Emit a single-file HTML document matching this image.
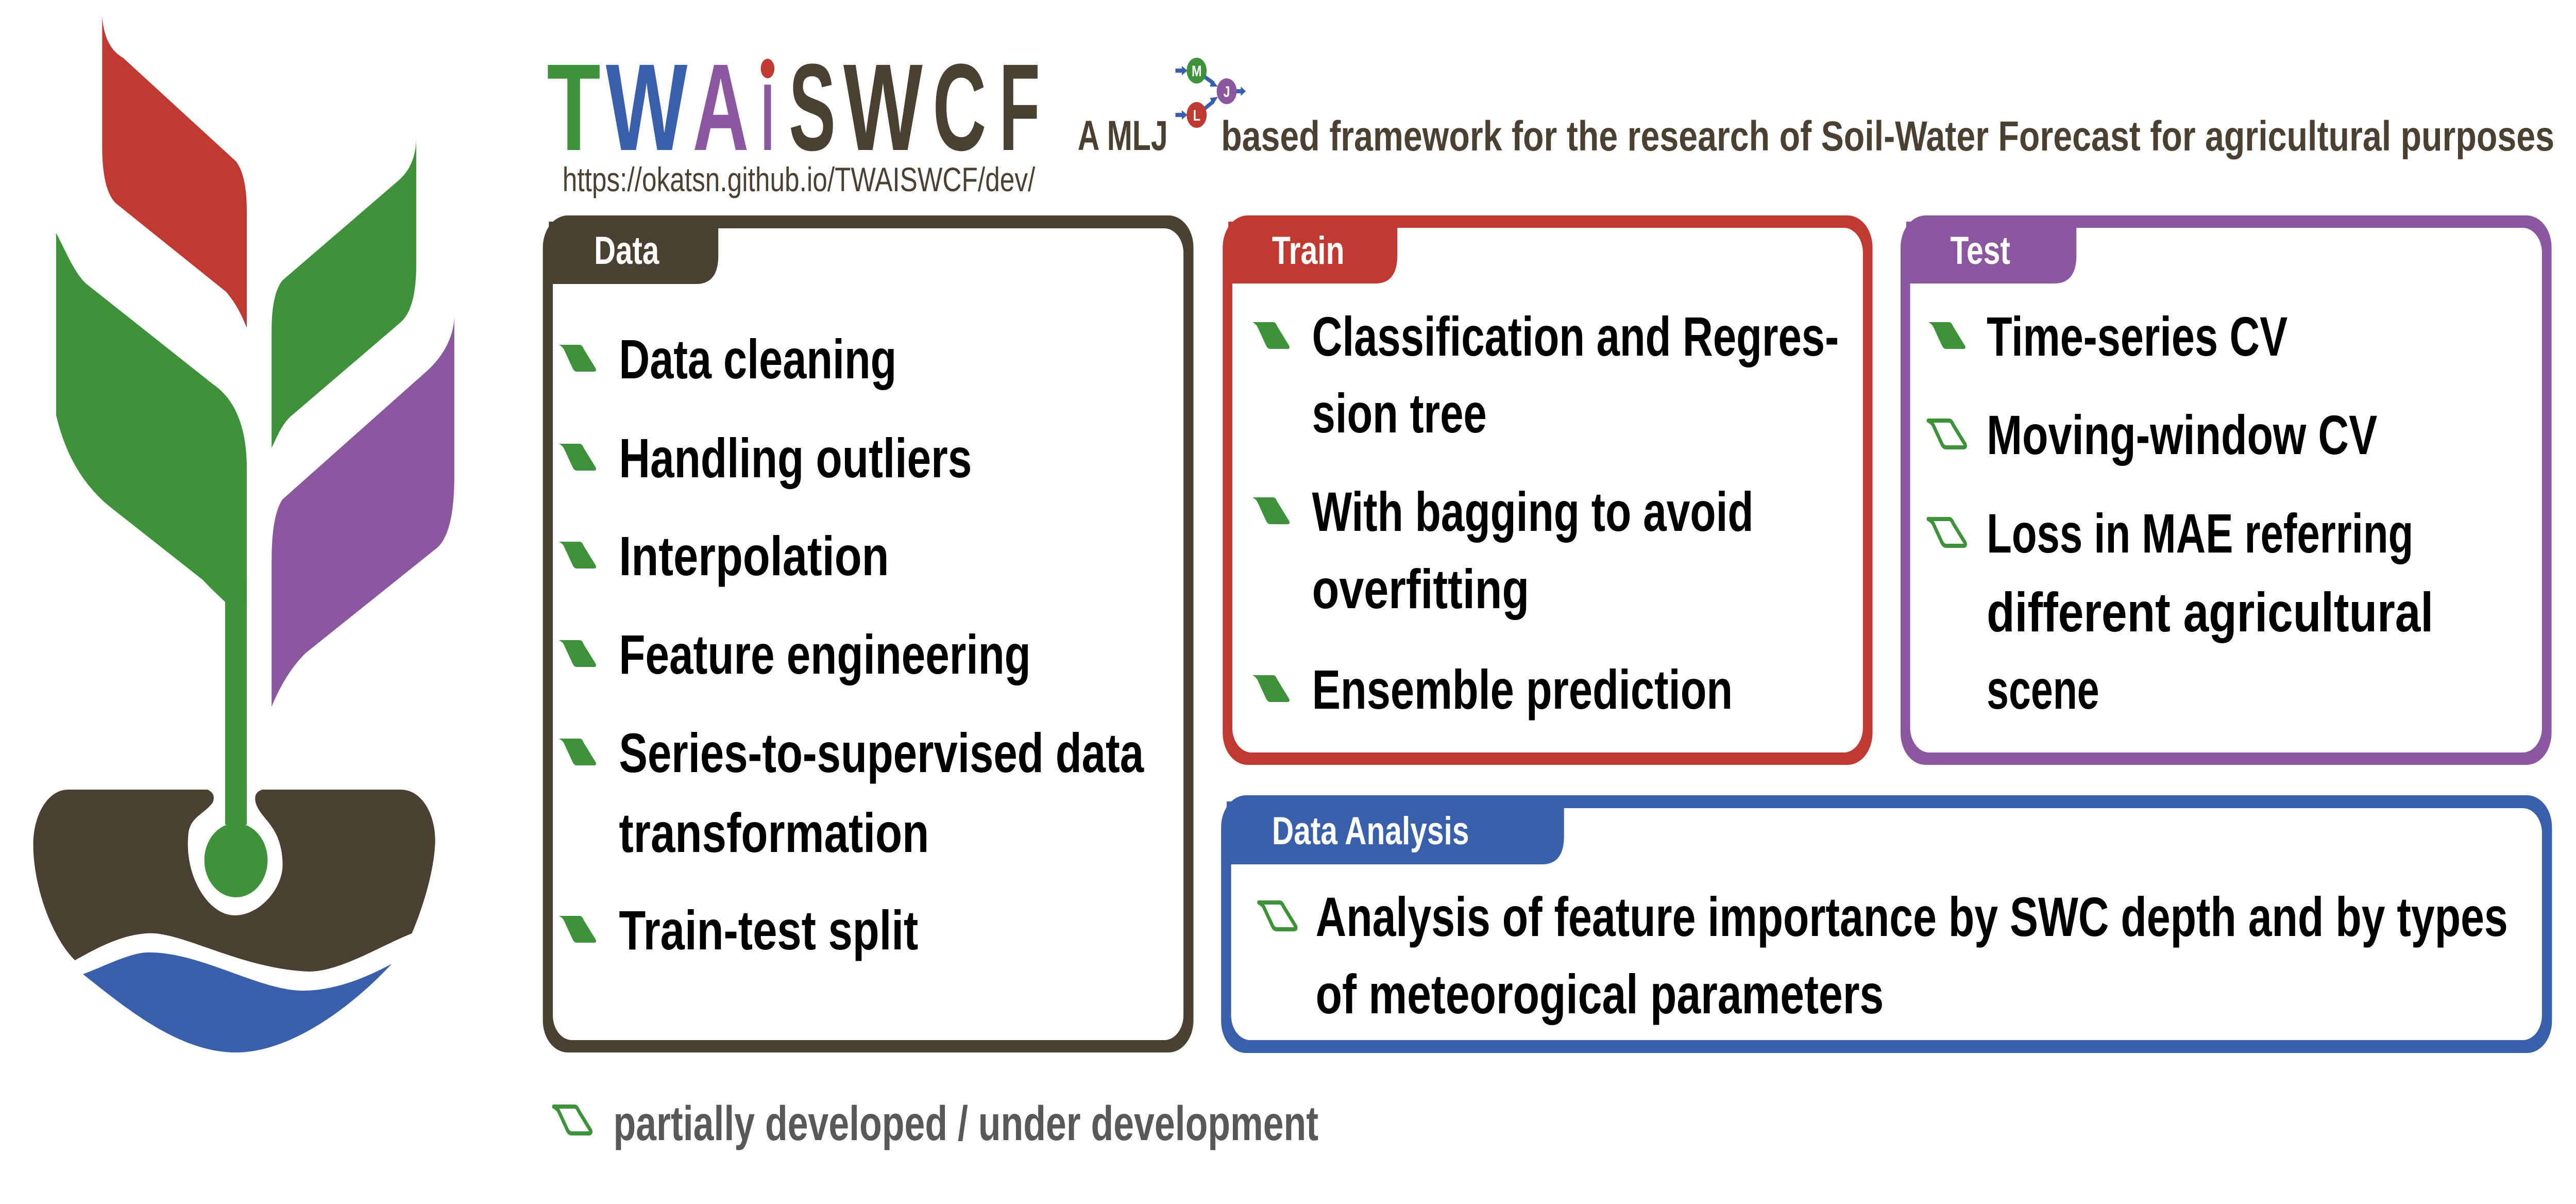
<!DOCTYPE html>
<html><head><meta charset="utf-8"><style>html,body{margin:0;padding:0;background:#fff;overflow:hidden;width:100vw;height:100vh}svg{display:block;width:100vw;height:100vh}</style></head><body>
<svg xmlns="http://www.w3.org/2000/svg" viewBox="0 0 6430 2336" preserveAspectRatio="none">
<defs>
<path id="leaf" d="M0,0 L52,0 Q58,0 62,8 L92,46 Q95,52 88,52 L45,52 Q38,52 34,45 L12,8 Q8,3 0,0 Z"/>
</defs>
<rect width="6430" height="2336" fill="#fff"/>
<!-- Logo -->
<path fill="#C13A32" d="M255,30 C258,70 275,98 307,112 L589,313 Q616,340 616,410 L616,636 C600,605 585,585 564,566 L290,395 Q255,370 255,283 Z"/>
<path fill="#3D923A" d="M140,452 C160,480 185,530 216,551 L531,745 Q616,790 616,909 L616,1600 L562,1600 L562,1168 C545,1155 530,1145 506,1125 L274,983 Q174,920 140,805 Z"/>
<path fill="#3D923A" d="M1039,268 L1039,514 Q1039,600 999,626 L730,805 C705,820 690,850 678,869 L678,641 Q678,570 705,544 L995,350 C1025,330 1039,300 1039,268 Z"/>
<path fill="#8B579F" d="M1134,611 L1134,924 Q1134,1040 1086,1066 L763,1267 C720,1300 695,1340 678,1371 L678,1088 Q678,1000 705,969 L1061,723 C1110,690 1134,650 1134,611 Z"/>
<path fill="#4A4133" d="M170,1532 L518,1532 Q540,1540 531,1557 C510,1580 473,1585 470,1620 C460,1700 520,1776 586,1776 C650,1776 712,1720 705,1669 C700,1600 650,1590 638,1557 Q632,1537 655,1532 L999,1532 C1060,1532 1090,1590 1086,1639 C1080,1720 1028,1811 1028,1811 C950,1835 850,1885 771,1885 C600,1880 450,1805 365,1811 C290,1815 220,1850 187,1863 C130,1820 83,1720 83,1639 C83,1580 120,1532 170,1532 Z"/>
<ellipse cx="589" cy="1669" rx="79" ry="72" fill="#3D923A"/>
<path fill="#3A60AB" d="M207,1890 C260,1875 320,1850 365,1848 C500,1845 650,1925 763,1922 C850,1920 930,1890 978,1870 C870,1960 720,2042 589,2042 C450,2042 320,1960 207,1890 Z"/>

<!-- Title -->
<g font-family="Liberation Sans, sans-serif" font-weight="bold" font-size="240">
<text x="1365" y="291" fill="#3D923A" textLength="134" lengthAdjust="spacingAndGlyphs">T</text>
<text x="1512" y="291" fill="#3A60AB" textLength="204" lengthAdjust="spacingAndGlyphs">W</text>
<text x="1729" y="291" fill="#8B579F" textLength="140" lengthAdjust="spacingAndGlyphs">A</text>
<text x="1899" y="291" fill="#8B579F" textLength="34" lengthAdjust="spacingAndGlyphs">ı</text>
<text x="1969" y="291" fill="#4A4133" textLength="117" lengthAdjust="spacingAndGlyphs">S</text>
<text x="2105" y="291" fill="#4A4133" textLength="198" lengthAdjust="spacingAndGlyphs">W</text>
<text x="2328" y="291" fill="#4A4133" textLength="134" lengthAdjust="spacingAndGlyphs">C</text>
<text x="2494" y="291" fill="#4A4133" textLength="102" lengthAdjust="spacingAndGlyphs">F</text>
</g>
<ellipse cx="1916" cy="133" rx="17" ry="19" fill="#C13A32"/>
<text x="1404" y="371" font-family="Liberation Sans, sans-serif" font-size="66" fill="#4A4133" textLength="1180" lengthAdjust="spacingAndGlyphs">https://okatsn.github.io/TWAISWCF/dev/</text>
<g font-family="Liberation Sans, sans-serif" font-weight="bold" font-size="82" fill="#4A4133">
<text x="2690" y="291" textLength="225" lengthAdjust="spacingAndGlyphs">A MLJ</text>
<text x="3048" y="292" textLength="3328" lengthAdjust="spacingAndGlyphs">based framework for the research of Soil-Water Forecast for agricultural purposes</text>
</g>
<!-- MLJ mini logo -->
<g stroke="#3A60AB" stroke-width="8" fill="#3A60AB">
<line x1="2934" y1="137" x2="2952" y2="137"/>
<polygon stroke="none" points="2950,128 2964,137 2950,146"/>
<line x1="2934" y1="223" x2="2952" y2="223"/>
<polygon stroke="none" points="2950,214 2964,223 2950,232"/>
<line x1="3005" y1="148" x2="3030" y2="162"/>
<polygon stroke="none" points="3025,154 3040,168 3020,168"/>
<line x1="3005" y1="212" x2="3030" y2="196"/>
<polygon stroke="none" points="3020,190 3040,188 3028,203"/>
<line x1="3086" y1="177" x2="3098" y2="177"/>
<polygon stroke="none" points="3097,168 3110,177 3097,186"/>
</g>
<circle cx="2987" cy="137" r="25" fill="#3D923A"/>
<circle cx="3062" cy="177" r="25" fill="#8B579F"/>
<circle cx="2987" cy="223" r="25" fill="#C13A32"/>
<g font-family="Liberation Sans, sans-serif" font-weight="bold" font-size="30" fill="#fff" text-anchor="middle">
<text x="2987" y="148">M</text><text x="3062" y="188">J</text><text x="2987" y="234">L</text>
</g>

<!-- Data -->
<rect x="1355" y="418" width="1624" height="1624" rx="62" fill="#4A4133"/>
<rect x="1380" y="443" width="1574" height="1575" rx="48" fill="#fff"/>
<path d="M1370,430 L1793,430 L1793,496 Q1793,551 1738,551 L1370,551 Z" fill="#4A4133"/>
<!-- Train -->
<rect x="3052" y="418" width="1622" height="1066" rx="62" fill="#C13A32"/>
<rect x="3076" y="442" width="1574" height="1018" rx="48" fill="#fff"/>
<path d="M3066,430 L3488,430 L3488,495 Q3488,550 3433,550 L3066,550 Z" fill="#C13A32"/>
<!-- Test -->
<rect x="4744" y="418" width="1625" height="1066" rx="62" fill="#8B579F"/>
<rect x="4768" y="442" width="1577" height="1018" rx="48" fill="#fff"/>
<path d="M4758,430 L5183,430 L5183,495 Q5183,550 5128,550 L4758,550 Z" fill="#8B579F"/>
<!-- Data Analysis -->
<rect x="3048" y="1543" width="3322" height="500" rx="62" fill="#3A60AB"/>
<rect x="3073" y="1568" width="3272" height="450" rx="48" fill="#fff"/>
<path d="M3062,1555 L3904,1555 L3904,1622 Q3904,1677 3849,1677 L3062,1677 Z" fill="#3A60AB"/>

<g font-family="Liberation Sans, sans-serif" font-weight="bold" font-size="76" fill="#fff">
<text x="1483" y="512" textLength="162" lengthAdjust="spacingAndGlyphs">Data</text>
<text x="3175" y="512" textLength="181" lengthAdjust="spacingAndGlyphs">Train</text>
<text x="4868" y="512" textLength="150" lengthAdjust="spacingAndGlyphs">Test</text>
<text x="3175" y="1638" textLength="492" lengthAdjust="spacingAndGlyphs">Data Analysis</text>
</g>

<g fill="#3D923A">
<use href="#leaf" x="1395" y="669"/>
<use href="#leaf" x="1395" y="861"/>
<use href="#leaf" x="1395" y="1051"/>
<use href="#leaf" x="1395" y="1242"/>
<use href="#leaf" x="1395" y="1433"/>
<use href="#leaf" x="1395" y="1777"/>
<use href="#leaf" x="3126" y="625"/>
<use href="#leaf" x="3126" y="965"/>
<use href="#leaf" x="3126" y="1310"/>
<use href="#leaf" x="4813" y="625"/>
</g>
<g fill="#fff" stroke="#3D923A" stroke-width="8" stroke-linejoin="round">
<use href="#leaf" x="4813" y="816"/>
<use href="#leaf" x="4813" y="1007"/>
<use href="#leaf" x="3142" y="1751"/>
<use href="#leaf" x="1382" y="2147"/>
</g>

<g font-family="Liberation Sans, sans-serif" font-weight="bold" font-size="108" fill="#000">
<text x="1545" y="734" textLength="693" lengthAdjust="spacingAndGlyphs">Data cleaning</text>
<text x="1545" y="926" textLength="881" lengthAdjust="spacingAndGlyphs">Handling outliers</text>
<text x="1545" y="1116" textLength="674" lengthAdjust="spacingAndGlyphs">Interpolation</text>
<text x="1545" y="1307" textLength="1028" lengthAdjust="spacingAndGlyphs">Feature engineering</text>
<text x="1545" y="1498" textLength="1310" lengthAdjust="spacingAndGlyphs">Series-to-supervised data</text>
<text x="1545" y="1653" textLength="774" lengthAdjust="spacingAndGlyphs">transformation</text>
<text x="1545" y="1842" textLength="747" lengthAdjust="spacingAndGlyphs">Train-test split</text>

<text x="3275" y="690" textLength="1315" lengthAdjust="spacingAndGlyphs">Classification and Regres-</text>
<text x="3275" y="839" textLength="436" lengthAdjust="spacingAndGlyphs">sion tree</text>
<text x="3275" y="1030" textLength="1102" lengthAdjust="spacingAndGlyphs">With bagging to avoid</text>
<text x="3275" y="1180" textLength="542" lengthAdjust="spacingAndGlyphs">overfitting</text>
<text x="3275" y="1375" textLength="1050" lengthAdjust="spacingAndGlyphs">Ensemble prediction</text>

<text x="4959" y="690" textLength="751" lengthAdjust="spacingAndGlyphs">Time-series CV</text>
<text x="4959" y="881" textLength="975" lengthAdjust="spacingAndGlyphs">Moving-window CV</text>
<text x="4959" y="1072" textLength="1065" lengthAdjust="spacingAndGlyphs">Loss in MAE referring</text>
<text x="4959" y="1225" textLength="1115" lengthAdjust="spacingAndGlyphs">different agricultural</text>
<text x="4959" y="1375" textLength="281" lengthAdjust="spacingAndGlyphs">scene</text>

<text x="3284" y="1816" textLength="2976" lengthAdjust="spacingAndGlyphs">Analysis of feature importance by SWC depth and by types</text>
<text x="3284" y="1966" textLength="1418" lengthAdjust="spacingAndGlyphs">of meteorogical parameters</text>
</g>
<text x="1531" y="2212" font-family="Liberation Sans, sans-serif" font-weight="bold" font-size="95" fill="#595959" textLength="1760" lengthAdjust="spacingAndGlyphs">partially developed / under development</text>
</svg>
</body></html>
